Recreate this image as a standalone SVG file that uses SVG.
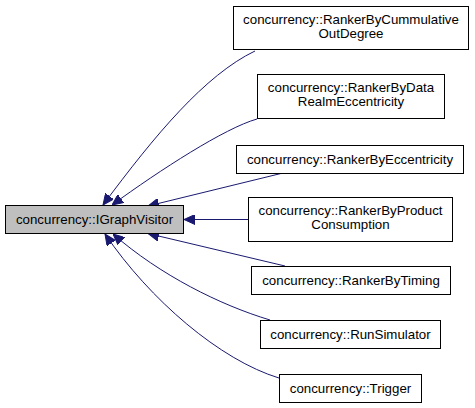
<svg xmlns="http://www.w3.org/2000/svg" width="475" height="408" viewBox="0 0 475 408">
<style>
.node rect{fill:#ffffff;stroke:#000000;stroke-width:1}
.node.main rect{fill:#bfbfbf}
.node text{font-family:"Liberation Sans",Arial,Helvetica,sans-serif;font-size:13.3px;fill:#000000;text-anchor:middle}
.edge{fill:none;stroke:#191970;stroke-width:1;marker-end:url(#arr)}
</style>
<defs>
<marker id="arr" markerUnits="userSpaceOnUse" viewBox="0 0 11 10" markerWidth="11" markerHeight="10" refX="11" refY="5" orient="auto">
<path d="M0,0 L11,5 L0,10 Z" fill="#191970" stroke="#191970" stroke-width="1"/>
</marker>
</defs>
<rect width="475" height="408" fill="#ffffff"/>
<g id="edges">
<path class="edge" d="M255,51 C205,75 155,135 103,205"/>
<path class="edge" d="M257,119 C225,128 160,170 112,205"/>
<path class="edge" d="M285,172.5 L148,206"/>
<path class="edge" d="M248,219.5 L184,219.5"/>
<path class="edge" d="M285,266 L148,233.5"/>
<path class="edge" d="M270,320 C220,305 160,275 113,234"/>
<path class="edge" d="M279,378 C220,360 150,300 105,234"/>
</g>
<g id="node-IGraphVisitor" class="node main">
<rect x="5.5" y="205.5" width="178" height="28"/>
<text x="94.5" y="223.5">concurrency::IGraphVisitor</text>
</g>
<g id="node-RankerByCummulativeOutDegree" class="node">
<rect x="233.5" y="6.5" width="235" height="43"/>
<text x="351" y="23.5">concurrency::RankerByCummulative</text>
<text x="351" y="37.5">OutDegree</text>
</g>
<g id="node-RankerByDataRealmEccentricity" class="node">
<rect x="257.5" y="74.5" width="187" height="44"/>
<text x="351" y="92">concurrency::RankerByData</text>
<text x="351" y="106">RealmEccentricity</text>
</g>
<g id="node-RankerByEccentricity" class="node">
<rect x="236.5" y="145.5" width="227" height="28"/>
<text x="350" y="164">concurrency::RankerByEccentricity</text>
</g>
<g id="node-RankerByProductConsumption" class="node">
<rect x="248.5" y="197.5" width="204" height="44"/>
<text x="350.5" y="215">concurrency::RankerByProduct</text>
<text x="350.5" y="229">Consumption</text>
</g>
<g id="node-RankerByTiming" class="node">
<rect x="251.5" y="266.5" width="199" height="28"/>
<text x="351" y="285">concurrency::RankerByTiming</text>
</g>
<g id="node-RunSimulator" class="node">
<rect x="260.5" y="320.5" width="180" height="28"/>
<text x="350.5" y="339">concurrency::RunSimulator</text>
</g>
<g id="node-Trigger" class="node">
<rect x="279.5" y="374.5" width="142" height="28"/>
<text x="350.5" y="393">concurrency::Trigger</text>
</g>
</svg>
